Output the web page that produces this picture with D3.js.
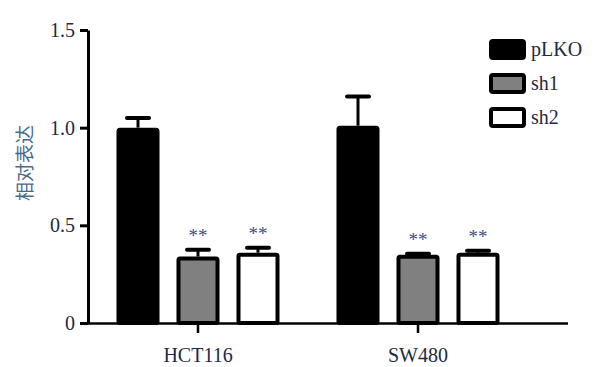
<!DOCTYPE html>
<html><head><meta charset="utf-8">
<script src="https://cdn.jsdelivr.net/npm/d3@7"></script>
<style>body{margin:0;background:#fff}svg{display:block}</style>
</head><body>
<svg id="c" width="609" height="367"></svg>
<script>
const groups = ["HCT116", "SW480"];
const series = ["pLKO", "sh1", "sh2"];
const seriesFill = ["#000000", "#808080", "#ffffff"];
const means = {pLKO: [1.00, 1.01], sh1: [0.34, 0.35], sh2: [0.36, 0.36]};
const errs = {pLKO: [0.05, 0.15], sh1: [0.035, 0.005], sh2: [0.025, 0.01]};
const stars = {pLKO: ["", ""], sh1: ["**", "**"], sh2: ["**", "**"]};
const yTicks = [0, 0.5, 1.0, 1.5];
const yTickLabels = ["0", "0.5", "1.0", "1.5"];
const yLabel = "相对表达";

const svg = d3.select("#c");
const font = "'Liberation Serif','Times New Roman',serif";
const textCol = "#1e2a44";

const y = d3.scaleLinear().domain([0, 1.5]).range([323, 30]);
const x0 = d3.scaleBand().domain(groups).range([88, 528]);
const x1 = d3.scaleBand().domain(series).range([20, 200]).paddingInner(0.283).paddingOuter(0.1415);

const data = [];
groups.forEach((g, gi) => series.forEach((s, si) => data.push({g, s, si, v: means[s][gi], e: errs[s][gi], st: stars[s][gi]})));

const bars = svg.append("g");
data.forEach(d => {
  const bx = x0(d.g) + x1(d.s), bw = x1.bandwidth();
  const cx = bx + bw / 2;
  bars.append("line").attr("x1", cx).attr("x2", cx).attr("y1", y(d.v)).attr("y2", y(d.v + d.e))
    .attr("stroke", "#000").attr("stroke-width", 3);
  bars.append("line").attr("x1", cx - 11).attr("x2", cx + 11).attr("y1", y(d.v + d.e)).attr("y2", y(d.v + d.e))
    .attr("stroke", "#000").attr("stroke-width", 4).attr("stroke-linecap", "round");
  bars.append("rect").attr("x", bx + 2).attr("y", y(d.v) + 2).attr("width", bw - 4).attr("height", y(0) - y(d.v) - 2)
    .attr("fill", seriesFill[d.si]).attr("stroke", "#000").attr("stroke-width", 4).attr("rx", 1.5);
  if (d.st) {
    bars.append("text").attr("x", cx).attr("y", y(d.v + d.e) - 8).attr("text-anchor", "middle")
      .attr("font-family", font).attr("font-size", 19).attr("fill", "#3a4f8a").text(d.st);
  }
});

const yAxis = svg.append("g").attr("transform", "translate(88,0)")
  .call(d3.axisLeft(y).tickValues(yTicks).tickFormat((d, i) => yTickLabels[i]).tickSize(8).tickSizeOuter(0));
yAxis.select(".domain").attr("stroke", "#000").attr("stroke-width", 3);
yAxis.selectAll(".tick line").attr("stroke", "#000").attr("stroke-width", 3);
yAxis.selectAll(".tick text").attr("font-family", font).attr("font-size", 20).attr("fill", textCol).attr("x", -13).attr("dy", "0.33em");

const xAxis = svg.append("g").attr("transform", "translate(0,323)")
  .call(d3.axisBottom(x0).tickSize(10).tickSizeOuter(0).tickPadding(15));
xAxis.select(".domain").attr("d", "M86.5,0.5H568").attr("stroke", "#000").attr("stroke-width", 2.5);
xAxis.selectAll(".tick line").attr("stroke", "#000").attr("stroke-width", 2.5);
xAxis.selectAll(".tick text").attr("font-family", font).attr("font-size", 20).attr("fill", textCol);

svg.append("text").attr("transform", "translate(32,163) rotate(-90)").attr("text-anchor", "middle")
  .attr("font-family", "'Noto Sans CJK SC',sans-serif").attr("font-size", 19).attr("fill", "#4a6a8e").text(yLabel);

const leg = svg.append("g");
series.forEach((s, i) => {
  const ly = 39 + i * 34;
  leg.append("rect").attr("x", 491).attr("y", ly + 2).attr("width", 33).attr("height", 17)
    .attr("fill", seriesFill[i]).attr("stroke", "#000").attr("stroke-width", 4).attr("rx", 2);
  leg.append("text").attr("x", 531).attr("y", ly + 17).attr("font-family", font).attr("font-size", 20)
    .attr("fill", textCol).text(s);
});
</script>
</body></html>
